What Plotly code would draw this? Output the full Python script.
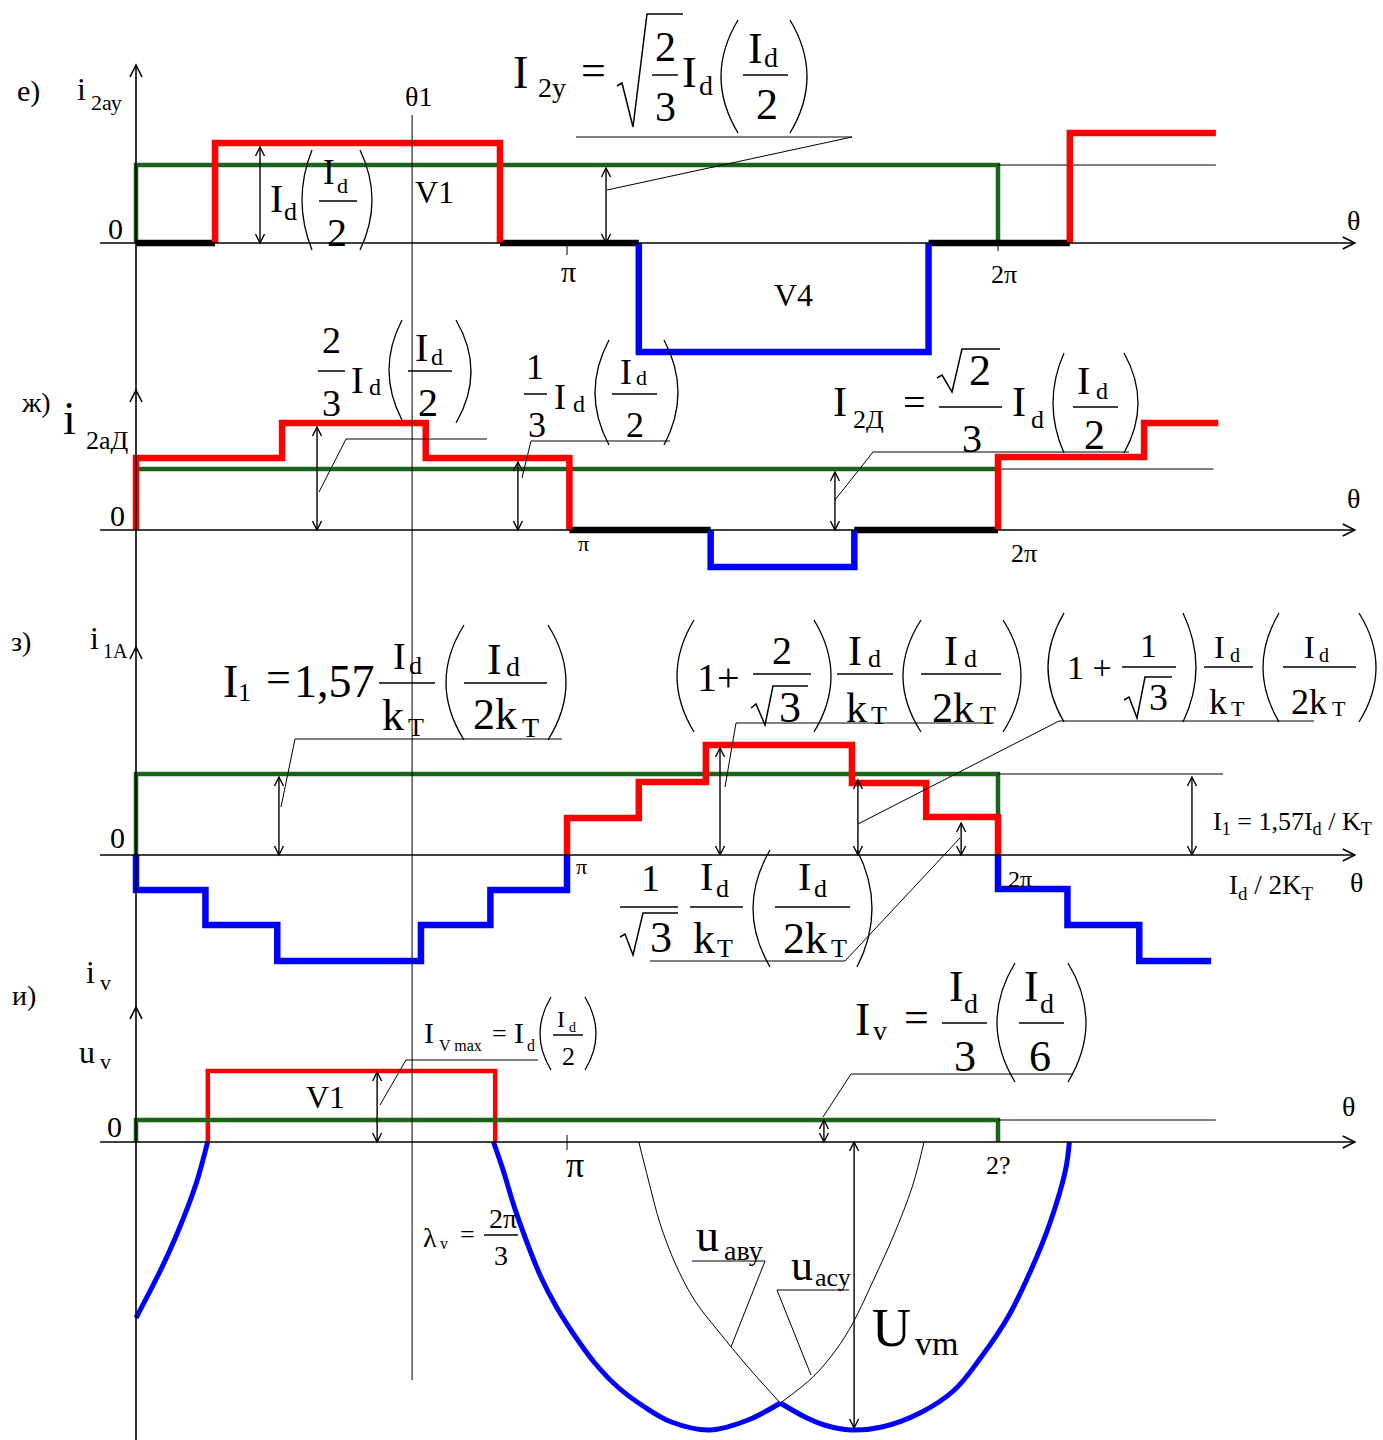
import plotly.graph_objects as go

W, H = 1383, 1440
X0_PX = 136                 # pixel column of theta = 0
PX_PER_DEG = 431 / 180      # pi sits at x = 567
PX_PER_UNIT = 100
ZERO_PX = {"e": 243, "zh": 530, "z": 855, "i": 1142}
YAX = {"e": "y", "zh": "y2", "z": "y3", "i": "y4"}

RED = "#ff0000"
BLUE = "#0000ff"
GREEN = "#1a641a"
BLACK = "#000000"
FONT = "Liberation Serif"

# ---- е) secondary current of the star winding ----
e_red_a_theta = [33, 152]
e_red_a_level = [1.0]
e_red_b_theta = [390, 451]
e_red_b_level = [1.10]
e_blue_theta = [210, 331]
e_blue_level = [-1.09]
e_black_theta = [(0, 33), (152, 210), (331, 390)]
e_green_theta = [0, 360]
e_green_level = [0.78]
e_green_tail = 451

# ---- ж) secondary current of the delta winding ----
zh_red_a_theta = [0, 61, 121, 181]
zh_red_a_level = [0.72, 1.07, 0.72]
zh_red_b_theta = [360, 421, 452]
zh_red_b_level = [0.73, 1.07]
zh_blue_theta = [240, 300]
zh_blue_level = [-0.37]
zh_black_theta = [(181, 240), (300, 360)]
zh_green_theta = [0, 360]
zh_green_level = [0.61]
zh_green_tail = 450

# ---- з) primary current ----
z_red_theta = [180, 210, 238, 299, 330, 360]
z_red_level = [0.37, 0.73, 1.10, 0.72, 0.38]
z_blue_a_theta = [0, 29, 59, 119, 148, 180]
z_blue_a_level = [-0.35, -0.70, -1.06, -0.70, -0.35]
z_blue_b_theta = [360, 389, 419, 449]
z_blue_b_level = [-0.34, -0.70, -1.06]
z_green_theta = [0, 360]
z_green_level = [0.81]
z_green_tail = 454

# ---- и) valve current and voltage ----
i_red_theta = [30, 150]
i_red_level = [0.71]
i_green_theta = [0, 360]
i_green_level = [0.22]
i_green_tail = 451
i_blue_l_theta = [0, 10.3, 17.8, 25.2, 29.9]
i_blue_l_value = [-1.76, -1.28, -0.88, -0.41, 0]
i_blue_a_theta = [149.3, 153.3, 158.0, 162.9, 169.1, 175.6, 183.6, 191.6, 201.2,
                  212.4, 223.6, 239.6, 255.6, 269.1]
i_blue_a_value = [0, -0.28, -0.65, -0.98, -1.35, -1.65, -1.95, -2.21, -2.45,
                  -2.65, -2.80, -2.88, -2.78, -2.61]
i_blue_b_theta = [269.1, 279.4, 287.5, 298.6, 311.5, 327.4, 341.8, 353.0, 364.2,
                  373.8, 381.7, 388.2, 389.8]
i_blue_b_value = [-2.61, -2.75, -2.83, -2.88, -2.85, -2.71, -2.48, -2.15, -1.75,
                  -1.28, -0.81, -0.28, 0]
u_avu_theta = [210.0, 214.0, 218.8, 225.1, 233.2, 242.8, 255.6, 269.1]
u_avu_value = [0, -0.38, -0.81, -1.21, -1.58, -1.88, -2.25, -2.61]
u_acu_theta = [269.1, 282.7, 292.3, 299.4, 308.2, 316.3, 324.3, 329.1]
u_acu_value = [-2.61, -2.35, -2.08, -1.81, -1.37, -0.94, -0.44, 0]

theta1 = 115.3

# double arrows: panel, theta, top value, bottom value
arrows = [
    ("e", 51.8, 0.96, 0.0), ("e", 196.3, 0.75, 0.0),
    ("zh", 75.6, 1.03, 0.0), ("zh", 159.5, 0.68, 0.0), ("zh", 291.9, 0.58, 0.0),
    ("z", 59.7, 0.78, 0.0), ("z", 243.9, 1.07, 0.0), ("z", 301.5, 0.75, 0.0),
    ("z", 344.6, 0.32, 0.0), ("z", 441.0, 0.78, 0.0),
    ("i", 100.7, 0.70, 0.0), ("i", 287.3, 0.22, 0.0), ("i", 299.9, 0.0, -2.86),
]
# vertical axis pieces (bottom, top) per panel
v_axis = [("e", -1.47, 1.78), ("zh", -1.17, 1.40), ("z", -1.52, 2.08), ("i", -2.98, 1.35)]
theta_axis = (-15, 509)
ticks = [("e", 180, 0, -0.12), ("e", 360, 0, -0.08), ("i", 180, 0.07, -0.08)]


def step_xy(theta, levels, close=True):
    xs, ys = [theta[0]], [0.0]
    for t, v in zip(theta[:-1], levels):
        xs.append(t)
        ys.append(v)
    xs.append(theta[-1])
    ys.append(0.0 if close else levels[-1])
    return xs, ys


fig = go.Figure()
shapes = []
annotations = []


def line(p, xs, ys, color, width, shape="linear"):
    fig.add_trace(go.Scatter(x=xs, y=ys, xaxis="x", yaxis=YAX[p], mode="lines",
                             line=dict(color=color, width=width, shape=shape),
                             hoverinfo="skip"))


def steps(p, theta, levels, color, width=6.5, close=True):
    xs, ys = step_xy(theta, levels, close)
    line(p, xs, ys, color, width, "hv")


def seg(p, x0, y0, x1, y1, width):
    shapes.append(dict(type="line", xref="x", yref=YAX[p], x0=x0, y0=y0, x1=x1, y1=y1,
                       line=dict(color=BLACK, width=width)))


def vhead(p, t, v, up, length, half, width):
    s = -1 if up else 1
    dt = half / PX_PER_DEG
    dv = s * length / PX_PER_UNIT
    shapes.append(dict(type="path", xref="x", yref=YAX[p], line=dict(color=BLACK, width=width),
                       path=f"M{t - dt},{v + dv} L{t},{v} L{t + dt},{v + dv}"))


def rhead(p, t, v, length, half, width):
    dt = length / PX_PER_DEG
    dv = half / PX_PER_UNIT
    shapes.append(dict(type="path", xref="x", yref=YAX[p], line=dict(color=BLACK, width=width),
                       path=f"M{t - dt},{v + dv} L{t},{v} L{t - dt},{v - dv}"))


# panel е
steps("e", e_green_theta, e_green_level, GREEN, 4.5)
line("e", [e_green_theta[-1], e_green_tail], [e_green_level[0]] * 2, BLACK, 1)
for a, b in e_black_theta:
    line("e", [a, b], [0, 0], BLACK, 6.5)
steps("e", e_red_a_theta, e_red_a_level, RED)
steps("e", e_red_b_theta, e_red_b_level, RED, close=False)
steps("e", e_blue_theta, e_blue_level, BLUE)

# panel ж
steps("zh", zh_green_theta, zh_green_level, GREEN, 4.5)
line("zh", [zh_green_theta[-1], zh_green_tail], [zh_green_level[0]] * 2, BLACK, 1)
for a, b in zh_black_theta:
    line("zh", [a, b], [0, 0], BLACK, 6.5)
steps("zh", zh_red_a_theta, zh_red_a_level, RED)
steps("zh", zh_red_b_theta, zh_red_b_level, RED, close=False)
steps("zh", zh_blue_theta, zh_blue_level, BLUE)

# panel з
steps("z", z_green_theta, z_green_level, GREEN, 4.5)
line("z", [z_green_theta[-1], z_green_tail], [z_green_level[0]] * 2, BLACK, 1)
steps("z", z_red_theta, z_red_level, RED)
steps("z", z_blue_a_theta, z_blue_a_level, BLUE)
steps("z", z_blue_b_theta, z_blue_b_level, BLUE, close=False)

# panel и
steps("i", i_red_theta, i_red_level, RED, 4.5)
steps("i", i_green_theta, i_green_level, GREEN, 4.5)
line("i", [i_green_theta[-1], i_green_tail], [i_green_level[0]] * 2, BLACK, 1)
line("i", u_avu_theta, u_avu_value, BLACK, 1, "spline")
line("i", u_acu_theta, u_acu_value, BLACK, 1, "spline")
line("i", i_blue_l_theta, i_blue_l_value, BLUE, 5, "spline")
line("i", i_blue_a_theta, i_blue_a_value, BLUE, 5, "spline")
line("i", i_blue_b_theta, i_blue_b_value, BLUE, 5, "spline")

# dummy trace so the pixel canvas axes exist
fig.add_trace(go.Scatter(x=[0], y=[0], xaxis="x2", yaxis="y5", mode="markers",
                         marker=dict(opacity=0), hoverinfo="skip"))

# theta axes, the vertical axis, double arrows, ticks
for p in YAX:
    seg(p, theta_axis[0], 0, theta_axis[1], 0, 1.6)
    rhead(p, theta_axis[1], 0, 12, 6, 1.6)
for p, lo, hi in v_axis:
    seg(p, 0, lo, 0, hi, 1.6)
    vhead(p, 0, hi, True, 12, 6, 1.6)
for p, t, hi, lo in arrows:
    seg(p, t, lo, t, hi, 1.4)
    vhead(p, t, hi, True, 9, 4.5, 1.4)
    vhead(p, t, lo, False, 9, 4.5, 1.4)
for p, t, a, b in ticks:
    seg(p, t, a, t, b, 1)
shapes.append(dict(type="line", xref="x", yref="y5", x0=theta1, x1=theta1, y0=115,
                   y1=1380, line=dict(color=BLACK, width=1)))

# ---- text (pixel canvas); 'x' marks glyphs that sit on the x-height ----
texts = [
    # labels of panel е
    (28, 91, "е)", 30), (81, 89, "i", 32), (106, 102, "2ау", 22), (418, 96, "θ1", 28),
    (115, 228, "0", 30), (434, 192, "V1", 32), (568, 275, "π", 30, "x"),
    (1004, 274, "2π", 26), (1353, 220, "θ", 28), (793, 295, "V4", 32),
    # I2у formula
    (520, 72, "I", 46), (552, 87, "2у", 28), (593, 75, "=", 44, "x"),
    (665, 47, "2", 42), (665, 107, "3", 42), (689, 72, "I", 44), (706, 85, "d", 28),
    (755, 48, "I", 44), (771, 57, "d", 28), (767, 104, "2", 44),
    # Id (Id/2)
    (276, 198, "I", 40), (290, 211, "d", 26), (329, 172, "I", 35), (342, 185, "d", 22),
    (337, 232, "2", 40),
    # labels of panel ж
    (36, 402, "ж)", 28), (69, 418, "i", 46), (107, 440, "2аД", 26), (117, 515, "0", 30),
    (583, 546, "π", 22, "x"), (1024, 553, "2π", 26), (1353, 498, "θ", 28),
    # 2/3 Id (Id/2)
    (331, 340, "2", 38), (331, 403, "3", 38), (357, 380, "I", 38), (375, 387, "d", 24),
    (421, 347, "I", 40), (437, 357, "d", 24), (428, 402, "2", 40),
    # 1/3 Id (Id/2)
    (535, 367, "1", 36), (537, 425, "3", 36), (560, 397, "I", 36), (579, 404, "d", 24),
    (626, 372, "I", 36), (641, 377, "d", 22), (635, 425, "2", 36),
    # I2Д formula
    (840, 402, "I", 42), (868, 419, "2Д", 26), (914, 407, "=", 40, "x"),
    (980, 370, "2", 44), (972, 438, "3", 40), (1019, 402, "I", 42), (1037, 419, "d", 26),
    (1083, 380, "I", 40), (1102, 391, "d", 24), (1094, 435, "2", 42),
    # labels of panel з
    (21, 641, "з)", 28), (94, 638, "i", 32), (115, 651, "1A", 20), (117, 837, "0", 30),
    (581, 869, "π", 22, "x"), (1020, 879, "2π", 24), (1356, 882, "θ", 28),
    # I1 = 1,57 Id/kT (Id/2kT)
    (230, 681, "I", 46), (244, 692, "1", 26), (278, 682, "=", 44, "x"),
    (334, 681, "1,57", 46), (399, 656, "I", 38), (415, 665, "d", 26),
    (393, 715, "k", 44), (416, 727, "T", 26), (494, 659, "I", 44), (513, 666, "d", 28),
    (495, 714, "2k", 44), (530, 727, "T", 28),
    # (1 + 2/√3) Id/kT (Id/2kT)
    (718, 677, "1+", 40), (782, 650, "2", 40), (790, 707, "3", 44),
    (855, 651, "I", 42), (874, 658, "d", 26), (856, 708, "k", 42), (879, 715, "T", 26),
    (951, 651, "I", 42), (970, 658, "d", 26), (953, 708, "2k", 42), (988, 715, "T", 26),
    # (1 + 1/√3) Id/kT (Id/2kT)
    (1089, 667, "1 +", 34), (1148, 645, "1", 34), (1158, 697, "3", 38),
    (1219, 647, "I", 32), (1235, 655, "d", 20), (1218, 702, "k", 36), (1238, 708, "T", 22),
    (1309, 647, "I", 32), (1324, 655, "d", 20), (1309, 702, "2k", 36), (1339, 708, "T", 22),
    # right side of з
    (1292, 823, "I<sub>1</sub> = 1,57I<sub>d</sub> / K<sub>T</sub>", 26),
    (1271, 887, "I<sub>d</sub> / 2K<sub>T</sub>", 27),
    # 1/√3 Id/kT (Id/2kT)
    (650, 878, "1", 38), (661, 937, "3", 44), (706, 876, "I", 40), (722, 888, "d", 26),
    (704, 938, "k", 44), (725, 948, "T", 26), (804, 876, "I", 40), (820, 888, "d", 26),
    (805, 938, "2k", 44), (839, 948, "T", 26),
    # labels of panel и
    (24, 995, "и)", 28), (90, 972, "i", 32), (105, 985, "v", 22, "x"),
    (87, 1055, "u", 32, "x"), (105, 1064, "v", 22, "x"), (114, 1126, "0", 30),
    (575, 1169, "π", 36, "x"), (998, 1165, "2?", 26), (1348, 1106, "θ", 28),
    (325, 1097, "V1", 32),
    # Iv max
    (429, 1032, "I", 30), (460, 1045, "V max", 16), (499, 1036, "=", 26, "x"),
    (519, 1032, "I", 30), (531, 1045, "d", 16), (561, 1019, "I", 24), (572, 1027, "d", 14),
    (568, 1056, "2", 26),
    # λv = 2π/3
    (430, 1237, "λ", 28), (444, 1245, "v", 16, "x"), (467, 1237, "=", 26, "x"),
    (503, 1218, "2π", 28), (501, 1255, "3", 28),
    # Iv = Id/3 (Id/6)
    (862, 1019, "I", 46), (880, 1034, "v", 28, "x"), (916, 1022, "=", 44, "x"),
    (956, 986, "I", 44), (971, 1003, "d", 28), (965, 1056, "3", 44),
    (1031, 986, "I", 44), (1047, 1003, "d", 28), (1040, 1056, "6", 44),
    # voltages
    (707, 1240, "u", 46, "x"), (743, 1254, "аву", 28, "x"),
    (802, 1270, "u", 44, "x"), (833, 1280, "асу", 26, "x"),
    (891, 1328, "U", 54), (936, 1347, "vm", 34, "x"),
]
for item in texts:
    x, y, txt, size = item[:4]
    if len(item) > 4:
        y -= 0.108 * size
    annotations.append(dict(x=x, y=y, xref="x2", yref="y5", text=txt, showarrow=False,
                            xanchor="center", yanchor="middle",
                            font=dict(family=FONT, size=size, color=BLACK)))

# fraction bars (x0, x1, y)
bars = [
    (652, 678, 75), (743, 788, 75), (319, 357, 201),
    (318, 345, 371), (408, 452, 371), (524, 547, 394), (612, 657, 394),
    (939, 1002, 407), (1073, 1118, 407),
    (379, 435, 683), (464, 547, 683),
    (753, 811, 674), (837, 893, 674), (921, 1001, 674),
    (1122, 1176, 667), (1204, 1253, 667), (1283, 1356, 667),
    (620, 678, 907), (690, 743, 907), (775, 850, 907),
    (553, 583, 1035), (484, 518, 1235), (942, 987, 1023), (1019, 1064, 1023),
]
for x0, x1, y in bars:
    shapes.append(dict(type="line", xref="x2", yref="y5", x0=x0, x1=x1, y0=y, y1=y,
                       line=dict(color=BLACK, width=1.5)))

# big parentheses (end x, bulge x, top y, bottom y)
parens = [
    (738, 721, 20, 133), (790, 807, 20, 133),
    (312, 302, 150, 250), (360, 372, 150, 250),
    (402, 389, 320, 420), (456, 471, 320, 423),
    (609, 595, 340, 445), (664, 678, 340, 445),
    (1064, 1053, 353, 453), (1124, 1138, 353, 453),
    (464, 446, 625, 740), (548, 566, 625, 740),
    (694, 677, 620, 732), (814, 831, 620, 732), (921, 903, 620, 732), (1003, 1021, 620, 732),
    (1064, 1048, 613, 722), (1183, 1196, 613, 722), (1279, 1263, 613, 722), (1359, 1376, 613, 722),
    (770, 753, 850, 967), (857, 872, 850, 967),
    (551, 540, 997, 1070), (585, 596, 997, 1070),
    (1015, 997, 963, 1082), (1068, 1086, 963, 1082),
]
for xe, xm, y0, y1 in parens:
    path = f"M{xe},{y0} Q{2 * xm - xe},{(y0 + y1) / 2} {xe},{y1}"
    shapes.append(dict(type="path", xref="x2", yref="y5", path=path,
                       line=dict(color=BLACK, width=1.3)))

# radical signs and leader lines
polylines = [
    ([(617, 86), (622, 83), (633, 127), (647, 14), (683, 14)], 1.5),
    ([(937, 378), (942, 375), (952, 392), (962, 349), (1000, 349)], 1.5),
    ([(751, 708), (756, 704), (765, 725), (773, 686), (808, 686)], 1.5),
    ([(1124, 700), (1129, 697), (1137, 718), (1145, 677), (1172, 677)], 1.5),
    ([(620, 937), (625, 934), (633, 955), (643, 913), (678, 913)], 1.5),
    ([(576, 137), (852, 137), (607, 190)], 1),
    ([(487, 439), (346, 439), (319, 492)], 1),
    ([(670, 441), (531, 441), (522, 478)], 1),
    ([(1129, 452), (873, 452), (835, 500)], 1),
    ([(562, 739), (295, 739), (281, 807)], 1),
    ([(994, 723), (736, 723), (725, 787)], 1),
    ([(1314, 721), (1059, 721), (858, 824)], 1),
    ([(650, 961), (845, 961), (960, 838)], 1),
    ([(538, 1060), (406, 1060), (380, 1105)], 1),
    ([(1073, 1074), (851, 1074), (823, 1117)], 1),
    ([(692, 1261), (765, 1261), (731, 1347)], 1),
    ([(849, 1290), (777, 1290), (811, 1375)], 1),
]
for pts, wdt in polylines:
    path = "M" + " L".join(f"{x},{y}" for x, y in pts)
    shapes.append(dict(type="path", xref="x2", yref="y5", path=path,
                       line=dict(color=BLACK, width=wdt)))

layout = dict(
    width=W, height=H, margin=dict(l=0, r=0, t=0, b=0),
    paper_bgcolor="white", plot_bgcolor="white", showlegend=False,
    xaxis=dict(range=[-X0_PX / PX_PER_DEG, (W - X0_PX) / PX_PER_DEG], visible=False,
               domain=[0, 1], fixedrange=True),
    xaxis2=dict(range=[0, W], visible=False, overlaying="x", fixedrange=True),
    yaxis5=dict(range=[H, 0], visible=False, overlaying="y", fixedrange=True),
    annotations=annotations, shapes=shapes,
)
for p, yid in YAX.items():
    name = "yaxis" + yid[1:]
    z = ZERO_PX[p]
    layout[name] = dict(range=[(z - H) / PX_PER_UNIT, z / PX_PER_UNIT], visible=False,
                        domain=[0, 1], fixedrange=True)
    if yid != "y":
        layout[name]["overlaying"] = "y"

fig.update_layout(**layout)
# drop the default page margin so the figure sits at the window's corner
fig.write_html("out.html", config={"displayModeBar": False},
               post_script="document.body.style.margin='0px';")
